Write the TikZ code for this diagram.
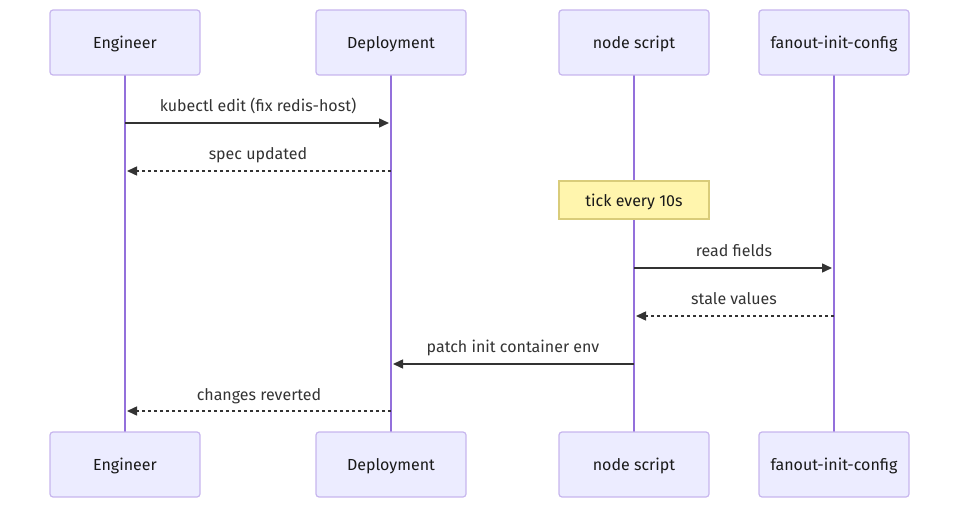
\documentclass[tikz,border=0pt]{standalone}
\usepackage{fontspec}
\setmainfont{Fira Sans}
\usetikzlibrary{arrows.meta}
\definecolor{actfill}{HTML}{ECECFF}
\definecolor{actdraw}{HTML}{C7B6EE}
\definecolor{lifec}{HTML}{9370DB}
\definecolor{msgc}{HTML}{333333}
\definecolor{notefill}{HTML}{FFF5AD}
\definecolor{notedraw}{HTML}{D9CC7A}
\tikzset{
  txt/.style={font=\fontsize{16}{19}\selectfont, text height=14pt, text depth=1.5pt},
  actor/.style={txt, draw=actdraw, fill=actfill, line width=1.2pt, rounded corners=3pt,
    minimum width=150pt, minimum height=65pt, inner sep=0pt, text=black!90},
  life/.style={draw=lifec, line width=1.6pt},
  msg/.style={draw=msgc, line width=1.5pt, -{Triangle[length=10pt,width=9pt]}},
  reply/.style={msg, dash pattern=on 3pt off 3pt},
  lbl/.style={txt, text=msgc, inner sep=0pt},
  notebox/.style={txt, draw=notedraw, fill=notefill, line width=1.2pt,
    minimum width=150pt, minimum height=38pt, inner sep=0pt, text=black!90}
}
\begin{document}
\begin{tikzpicture}[x=1pt,y=-1pt]
\useasboundingbox (0,0) rectangle (959,508);
% lifelines first (behind)
\coordinate (eA) at (125,75); \coordinate (eB) at (125,432);
\coordinate (dA) at (391,75); \coordinate (dB) at (391,432);
\coordinate (nA) at (634,75); \coordinate (nB) at (634,432);
\coordinate (fA) at (834,75); \coordinate (fB) at (834,432);
\draw[life] (eA) -- (eB);
\draw[life] (dA) -- (dB);
\draw[life] (nA) -- (nB);
\draw[life] (fA) -- (fB);
% actors
\node[actor] (eT) at (125,42.5) {Engineer};
\node[actor] (dT) at (391,42.5) {Deployment};
\node[actor] (nT) at (634,42.5) {node script};
\node[actor] (fT) at (834,42.5) {fanout-init-config};
\node[actor] (eD) at (125,464.5) {Engineer};
\node[actor] (dD) at (391,464.5) {Deployment};
\node[actor] (nD) at (634,464.5) {node script};
\node[actor] (fD) at (834,464.5) {fanout-init-config};
% message anchor points
\coordinate (e1) at (125,123); \coordinate (d1) at (389,123);
\coordinate (d2) at (391,171); \coordinate (e2) at (127,171);
\coordinate (n3) at (634,268); \coordinate (f3) at (832,268);
\coordinate (f4) at (834,316); \coordinate (n4) at (636,316);
\coordinate (n5) at (634,364); \coordinate (d5) at (393,364);
\coordinate (d6) at (391,411); \coordinate (e6) at (127,411);
% note
\node[notebox] (note) at (634,200) {tick every 10s};
% messages
\draw[msg] (e1) -- (d1);
\node[lbl] (l1) at (258,105) {kubectl edit (fix redis-host)};
\draw[reply] (d2) -- (e2);
\node[lbl] (l2) at (258,153) {spec updated};
\draw[msg] (n3) -- (f3);
\node[lbl] (l3) at (734,250) {read fields};
\draw[reply] (f4) -- (n4);
\node[lbl] (l4) at (734,298) {stale values};
\draw[msg] (n5) -- (d5);
\node[lbl] (l5) at (513,346) {patch init container env};
\draw[reply] (d6) -- (e6);
\node[lbl] (l6) at (259,394) {changes reverted};
\end{tikzpicture}
\end{document}
